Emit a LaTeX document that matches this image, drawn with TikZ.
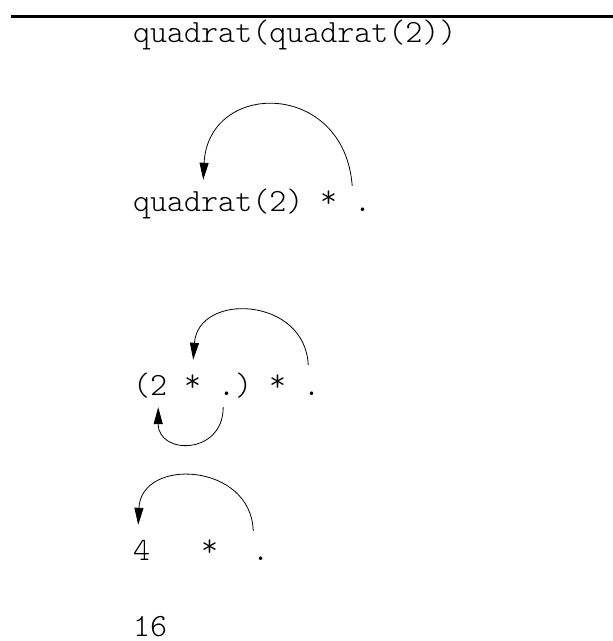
\documentclass[tikz,border=0pt]{standalone}
\usepackage{tikz}
\usetikzlibrary{arrows.meta}

\newcommand{\codefont}{\fontseries{l}\ttfamily\fontsize{32.4}{38}\selectfont}

\tikzset{
  tok/.style={font=\codefont, inner sep=0pt, anchor=base west, text height=17pt, text depth=0pt},
  refarrow/.style={line width=0.8pt, -{Triangle[length=17pt, width=9pt]}}
}

\begin{document}
\begin{tikzpicture}[x=1pt, y=-1pt]
\useasboundingbox (0,0) rectangle (613,641);
\draw[line width=3pt] (11,16) -- (613,16);

% step 1
\node[tok] (call) at (133,42) {quadrat(quadrat(2))};

% step 2
\node[tok] (quad2) at (133,211) {quadrat(2)};
\node[tok] (star2) at (320,207) {*};
\node[tok] (dot2) at (354,211) {.};
\draw[refarrow] ([xshift=-10.5pt, yshift=8pt]dot2.north)
  .. controls +(-8,-106) and +(5,-100) .. ([xshift=-15pt, yshift=14pt]quad2.north);

% step 3
\node[tok] (lpar) at (133,395) {(};
\node[tok] (two) at (150,395) {2};
\node[tok] (starA) at (184,391) {*};
\node[tok] (dotA) at (218,395) {.};
\node[tok] (rpar) at (235,395) {)};
\node[tok] (starB) at (269,391) {*};
\node[tok] (dotB) at (303,395) {.};
\draw[refarrow] ([xshift=-3.5pt, yshift=13pt]dotB.north)
  .. controls +(-3,-68) and +(5,-68) .. ([xshift=0.5pt, yshift=14pt]starA.north);
\draw[refarrow] ([xshift=-3.5pt, yshift=-12pt]dotA.south)
  .. controls +(0,48) and +(0,48) .. ([xshift=-0.5pt, yshift=-12pt]two.south);

% step 4
\node[tok] (four) at (133,560) {4};
\node[tok] (star4) at (201,556) {*};
\node[tok] (dot4) at (252,560) {.};
\draw[refarrow] ([xshift=-7.5pt, yshift=12pt]dot4.north)
  .. controls +(-2,-68) and +(3,-68) .. ([xshift=-3.5pt, yshift=18pt]four.north);

% result
\node[tok] (result) at (133,636) {16};
\end{tikzpicture}
\end{document}
